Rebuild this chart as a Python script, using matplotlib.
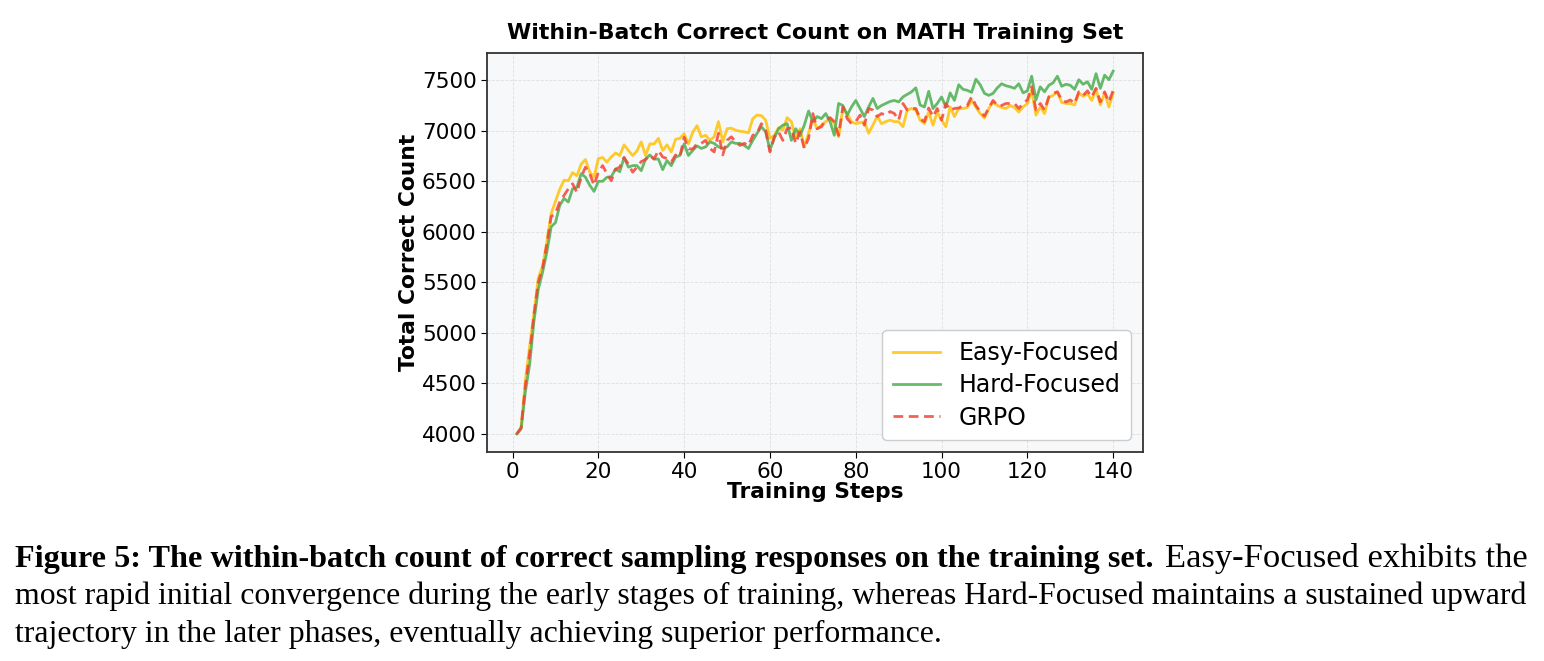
import matplotlib
matplotlib.use("Agg")
import matplotlib.pyplot as plt
import numpy as np

steps = np.arange(1, 141)

easy_focused = [
    4000, 4060, 4530, 4870, 5200, 5540, 5660, 5900, 6180, 6300,
    6420, 6510, 6505, 6585, 6555, 6670, 6715, 6590, 6540, 6725,
    6735, 6690, 6740, 6780, 6755, 6860, 6805, 6755, 6800, 6890,
    6755, 6870, 6870, 6925, 6805, 6860, 6790, 6915, 6925, 6970,
    6870, 6985, 7050, 6940, 6955, 6905, 6940, 7090, 6890, 7020,
    7025, 7005, 6995, 6990, 6980, 7120, 7155, 7150, 7105, 6925,
    6955, 7030, 7005, 7130, 7090, 6925, 7020, 6840, 6975, 7120,
    7020, 7055, 7090, 7120, 7070, 6940, 7220, 7170, 7090, 7070,
    7080, 7090, 6975, 7055, 7145, 7070, 7090, 7105, 7090, 7090,
    7040, 7205, 7220, 7205, 7105, 7070, 7185, 7055, 7185, 7105,
    7040, 7235, 7140, 7220, 7220, 7230, 7300, 7235, 7170, 7125,
    7220, 7285, 7250, 7230, 7220, 7250, 7230, 7185, 7235, 7270,
    7400, 7155, 7235, 7170, 7335, 7350, 7385, 7280, 7270, 7270,
    7255, 7375, 7340, 7365, 7300, 7410, 7255, 7375, 7235, 7375,
]

hard_focused = [
    4000, 4050, 4420, 4690, 5120, 5430, 5600, 5800, 6050, 6090,
    6260, 6330, 6295, 6425, 6440, 6575, 6540, 6460, 6400, 6500,
    6500, 6540, 6545, 6620, 6595, 6735, 6640, 6655, 6655, 6605,
    6720, 6760, 6720, 6720, 6615, 6705, 6655, 6740, 6755, 6870,
    6755, 6805, 6850, 6825, 6840, 6890, 6875, 6840, 6825, 6840,
    6890, 6875, 6875, 6855, 6825, 6905, 6975, 7040, 6990, 6810,
    6925, 7020, 7055, 7070, 6905, 7020, 6950, 7055, 7195, 7090,
    7140, 7120, 7170, 7090, 6955, 7270, 7250, 7155, 7235, 7300,
    7220, 7140, 7235, 7320, 7220, 7250, 7270, 7290, 7300, 7285,
    7335, 7360, 7385, 7425, 7255, 7235, 7390, 7220, 7270, 7335,
    7235, 7375, 7300, 7455, 7410, 7400, 7380, 7510, 7455, 7370,
    7350, 7370, 7425, 7465, 7445, 7435, 7420, 7465, 7375, 7395,
    7540, 7305, 7435, 7385, 7450, 7475, 7540, 7440, 7460, 7450,
    7410, 7505, 7460, 7485, 7410, 7565, 7420, 7550, 7505, 7590,
]

grpo = [
    4000, 4060, 4480, 4800, 5180, 5500, 5640, 5880, 6150, 6180,
    6295, 6360, 6425, 6475, 6390, 6540, 6640, 6575, 6460, 6590,
    6655, 6575, 6505, 6620, 6640, 6735, 6670, 6590, 6640, 6695,
    6715, 6755, 6720, 6805, 6740, 6725, 6690, 6760, 6740, 6935,
    6820, 6820, 6870, 6875, 6905, 6825, 6790, 6975, 6760, 6905,
    6940, 6890, 6855, 6875, 6855, 6955, 6975, 7070, 7005, 6790,
    6940, 6990, 6905, 7020, 7030, 6875, 6990, 6825, 6925, 7170,
    7020, 7040, 7105, 7130, 7090, 6955, 7235, 7120, 7070, 7090,
    7155, 7055, 7220, 7205, 7140, 7170, 7155, 7190, 7170, 7105,
    7270, 7205, 7220, 7220, 7120, 7090, 7225, 7140, 7220, 7105,
    7270, 7205, 7220, 7225, 7250, 7250, 7335, 7250, 7190, 7145,
    7225, 7300, 7250, 7250, 7270, 7270, 7270, 7220, 7270, 7305,
    7435, 7205, 7270, 7205, 7335, 7370, 7385, 7305, 7285, 7305,
    7270, 7385, 7350, 7395, 7335, 7420, 7285, 7385, 7285, 7400,
]

caption_bold = "Figure 5: The within-batch count of correct sampling responses on the training set."
caption_lines = [
    "Easy-Focused exhibits the",
    "most rapid initial convergence during the early stages of training, whereas Hard-Focused maintains a sustained upward",
    "trajectory in the later phases, eventually achieving superior performance.",
]

W, H = 1544, 661
fig = plt.figure(figsize=(W / 100, H / 100), dpi=100)
ax = fig.add_axes([487 / W, 1 - 452 / H, (1143 - 487) / W, (452 - 53) / H])
ax.set_facecolor("#f7f8fa")

ax.plot(steps, easy_focused, color="#FFC107", lw=2, alpha=0.85, label="Easy-Focused")
ax.plot(steps, hard_focused, color="#4CAF50", lw=2, alpha=0.85, label="Hard-Focused")
ax.plot(steps, grpo, color="#F44336", lw=2, alpha=0.85, ls=(0, (3.5, 2)), label="GRPO")

ax.set_xticks(np.arange(0, 141, 20))
ax.set_yticks(np.arange(4000, 7501, 500))
ax.tick_params(labelsize=15.5, length=4)
ax.grid(True, ls="--", lw=0.6, color="#d8d8d8", alpha=0.8)
for s in ax.spines.values():
    s.set_color("#333333")
    s.set_linewidth(1.3)

ax.set_title("Within-Batch Correct Count on MATH Training Set", fontsize=15.8,
             fontweight="bold", pad=10)
ax.set_xlabel("Training Steps", fontsize=15.7, fontweight="bold", labelpad=0)
ax.set_ylabel("Total Correct Count", fontsize=15.7, fontweight="bold", labelpad=2)

ax.legend(loc="lower right", fontsize=17, frameon=True, fancybox=True,
          framealpha=1.0, edgecolor="#cccccc", handlelength=2.0,
          borderpad=0.45, labelspacing=0.35)

# caption below the chart, serif like the paper body
fig.canvas.draw()
r = fig.canvas.get_renderer()
left, right = 15, 1528
base = [567, 604, 642]
fs = 20
t = fig.text(left / W, 1 - base[1] / H, caption_lines[1], family="Liberation Serif",
             fontsize=fs, va="baseline")
fs = fs * (right - left) / t.get_window_extent(r).width
t.set_fontsize(fs)

tb = fig.text(left / W, 1 - base[0] / H, caption_bold, family="Liberation Serif",
              fontsize=fs, fontweight="bold", va="baseline")
tb.set_fontsize(fs * (1152 - left) / tb.get_window_extent(r).width)
tr = fig.text(right / W, 1 - base[0] / H, caption_lines[0], family="Liberation Serif",
              fontsize=fs, va="baseline", ha="right")
tr.set_fontsize(fs * (right - 1167) / tr.get_window_extent(r).width)
fig.text(left / W, 1 - base[2] / H, caption_lines[2], family="Liberation Serif",
         fontsize=fs, va="baseline")

fig.savefig("out.png", dpi=100)
